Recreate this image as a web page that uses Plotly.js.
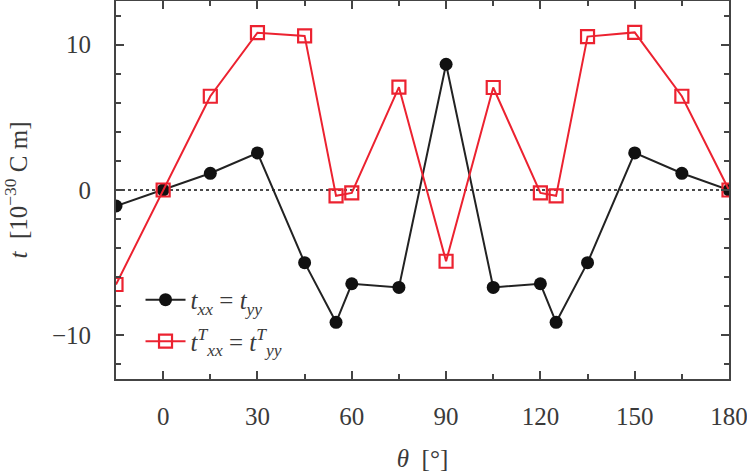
<!DOCTYPE html>
<html>
<head>
<meta charset="utf-8">
<script src="https://cdn.plot.ly/plotly-3.0.1.min.js"></script>
<style>html,body{margin:0;padding:0;background:#fff;}#plot{width:747px;height:475px;}</style>
</head>
<body>
<div id="plot"></div>
<script>
const theta = [-15, 0, 15, 30, 45, 55, 60, 75, 90, 105, 120, 125, 135, 150, 165, 180];
const tXX = [-1.1, 0, 1.15, 2.55, -5.0, -9.1, -6.45, -6.7, 8.65, -6.7, -6.45, -9.1, -5.0, 2.55, 1.15, 0];
const tXXT = [-6.5, 0, 6.45, 10.82, 10.6, -0.4, -0.2, 7.07, -4.9, 7.05, -0.2, -0.4, 10.55, 10.84, 6.45, 0];
const xTicks = [0, 30, 60, 90, 120, 150, 180];
const yTicks = [-10, 0, 10];
const nameA = '<i>t</i><sub><i>xx</i></sub> = <i>t</i><sub><i>yy</i></sub>';
const nameB = '<i>t</i><sup><i>T</i></sup><sub><i>xx</i></sub> = <i>t</i><sup><i>T</i></sup><sub><i>yy</i></sub>';

const font = {family: 'Liberation Serif, Times New Roman, serif', size: 25, color: '#3a3a3a'};
const red = '#ec2230';

const traces = [
  {x: theta, y: tXX, name: nameA, legendgroup: 'a', mode: 'lines+markers',
   line: {color: '#222', width: 2}, marker: {symbol: 'circle', size: 13, color: '#111'}},
  {x: theta, y: tXXT, name: nameB, legendgroup: 'b', mode: 'lines+markers',
   line: {color: red, width: 2}, marker: {symbol: 'square-open', size: 13, color: red, line: {width: 2.2}}}
];

const axisCommon = {
  showgrid: false, zeroline: false, showline: true, mirror: 'ticks',
  linecolor: '#444', linewidth: 2, ticks: 'inside', ticklen: 8, tickwidth: 2, tickcolor: '#444',
  tickfont: font
};

const layout = {
  width: 747, height: 475,
  margin: {l: 116, r: 18, t: 1, b: 96},
  paper_bgcolor: '#fff', plot_bgcolor: '#fff',
  font: font,
  showlegend: true,
  legend: {x: 0.04, y: 0.27, xanchor: 'left', yanchor: 'top', bgcolor: 'rgba(0,0,0,0)',
           font: font, tracegroupgap: 6, itemwidth: 40},
  xaxis: Object.assign({}, axisCommon, {
    range: [-15, 180], tickvals: xTicks, ticktext: xTicks.map(String),
    minor: {dtick: 15, tick0: 0, ticks: 'inside', ticklen: 5, tickwidth: 2, tickcolor: '#444'},
    ticklabelstandoff: 14, ticklabeloverflow: 'allow',
    title: {text: '<i>θ</i>  [°]', font: font, standoff: 20}
  }),
  yaxis: Object.assign({}, axisCommon, {
    range: [-13, 13], tickvals: yTicks, ticktext: yTicks.map(v => v < 0 ? '−' + Math.abs(v) : String(v)),
    minor: {dtick: 2, tick0: 0, ticks: 'inside', ticklen: 5, tickwidth: 2, tickcolor: '#444'},
    ticklabelstandoff: 18,
    title: {text: '<i>t</i>  [10<sup>−30</sup> C m]', font: font, standoff: 22}
  }),
  shapes: [{type: 'line', xref: 'paper', yref: 'y', x0: 0, x1: 1, y0: 0, y1: 0,
            line: {color: '#111', width: 1.5, dash: 'dot'}, layer: 'below'}]
};

Plotly.newPlot('plot', traces, layout, {displayModeBar: false, staticPlot: true});
</script>
</body>
</html>
